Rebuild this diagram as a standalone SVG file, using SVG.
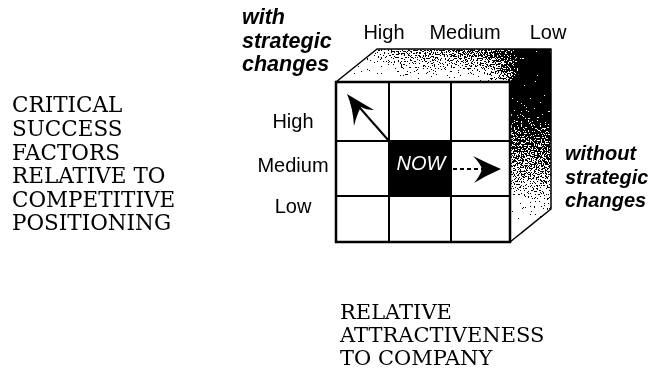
<svg xmlns="http://www.w3.org/2000/svg" width="651" height="372" viewBox="0 0 651 372">
<style>
.serif{font-family:"DejaVu Serif","Liberation Serif",serif;font-size:21.5px;fill:#000}
.serif2{font-family:"DejaVu Serif","Liberation Serif",serif;font-size:21px;fill:#000}
.sans{font-family:"Liberation Sans",Arial,sans-serif;font-size:20px;fill:#000}
.bi{font-family:"Liberation Sans",Arial,sans-serif;font-size:21.5px;font-weight:bold;font-style:italic;fill:#000}
.edge{fill:none;stroke:#000;stroke-width:1.5;stroke-linejoin:round}
.grid{fill:none;stroke:#000;stroke-width:2}
</style>
<defs>
<linearGradient id="topG" gradientUnits="userSpaceOnUse" x1="377" y1="0" x2="551" y2="0">
<stop offset="0" stop-color="#b8b8b8"/>
<stop offset="0.2" stop-color="#8c8c8c"/>
<stop offset="0.55" stop-color="#787878"/>
<stop offset="0.75" stop-color="#505050"/>
<stop offset="0.85" stop-color="#111"/>
<stop offset="1" stop-color="#000"/>
</linearGradient>
<linearGradient id="topW" gradientUnits="userSpaceOnUse" x1="0" y1="50" x2="0" y2="82">
<stop offset="0" stop-color="#fff" stop-opacity="0"/>
<stop offset="0.5" stop-color="#fff" stop-opacity="0.35"/>
<stop offset="1" stop-color="#fff" stop-opacity="0.9"/>
</linearGradient>
<linearGradient id="topM" gradientUnits="userSpaceOnUse" x1="340" y1="0" x2="525" y2="0">
<stop offset="0" stop-color="#fff"/>
<stop offset="0.75" stop-color="#fff"/>
<stop offset="1" stop-color="#000"/>
</linearGradient>
<mask id="mTop"><rect x="300" y="40" width="260" height="50" fill="url(#topM)"/></mask>
<linearGradient id="rightG" gradientUnits="userSpaceOnUse" x1="548" y1="60" x2="512" y2="235">
<stop offset="0" stop-color="#000"/>
<stop offset="0.22" stop-color="#111"/>
<stop offset="0.45" stop-color="#5e5e5e"/>
<stop offset="0.7" stop-color="#a0a0a0"/>
<stop offset="0.87" stop-color="#f0f0f0"/>
<stop offset="1" stop-color="#fff"/>
</linearGradient>
<filter id="dither" x="0" y="0" width="1" height="1" color-interpolation-filters="sRGB">
<feTurbulence type="fractalNoise" baseFrequency="0.7" numOctaves="2" seed="7" result="n"/>
<feColorMatrix in="n" type="matrix" values="1 0 0 0 0  1 0 0 0 0  1 0 0 0 0  0 0 0 0 1" result="g"/>
<feComposite in="SourceGraphic" in2="g" operator="arithmetic" k1="0" k2="1" k3="1.6" k4="-0.8" result="s"/>
<feComponentTransfer in="s" result="t">
<feFuncR type="discrete" tableValues="0 1"/>
<feFuncG type="discrete" tableValues="0 1"/>
<feFuncB type="discrete" tableValues="0 1"/>
<feFuncA type="linear" slope="0" intercept="1"/>
</feComponentTransfer>
<feComposite in="t" in2="SourceGraphic" operator="in"/>
</filter>
</defs>
<rect width="651" height="372" fill="#fff"/>

<g id="cube">
<g filter="url(#dither)">
<polygon points="336,82 377,49 551,49 510,82" fill="url(#topG)"/>
<polygon points="336,82 377,49 551,49 510,82" fill="url(#topW)" mask="url(#mTop)"/>
<polygon points="510,82 551,49 551,209 510,242" fill="url(#rightG)"/>
</g>
<polygon points="336,82 377,49 551,49 551,209 510,242" class="edge"/>
<line x1="510" y1="82" x2="551" y2="49" class="edge"/>
<rect x="336" y="82" width="174" height="160" fill="#fff" stroke="#000" stroke-width="2.5"/>
<rect x="389" y="141" width="62" height="55" fill="#000"/>
<line x1="389" y1="82" x2="389" y2="242" class="grid"/>
<line x1="451" y1="82" x2="451" y2="242" class="grid"/>
<line x1="336" y1="141" x2="510" y2="141" class="grid"/>
<line x1="336" y1="196" x2="510" y2="196" class="grid"/>
</g>

<g id="now">
<text x="421" y="170" text-anchor="middle" class="sans" style="font-style:italic;fill:#fff;font-size:20px">NOW</text>
</g>

<g id="connectors">
<line x1="360" y1="108" x2="389" y2="141" stroke="#000" stroke-width="2"/>
<path d="M347,94 Q362,103 374,110 Q366,110 361,107 Q357,114 354,126 Q353,108 347,94 Z" fill="#000"/>
<line x1="453" y1="169" x2="482" y2="169" stroke="#000" stroke-width="2" stroke-dasharray="4,3"/>
<path d="M501,169 Q487,163 473,156 Q480,163 482,169 Q480,176 474,183 Q487,175 501,169 Z" fill="#000"/>
</g>

<g id="left-label">
<text class="serif" x="12" y="112">CRITICAL</text>
<text class="serif" x="12" y="136">SUCCESS</text>
<text class="serif" x="12" y="160">FACTORS</text>
<text class="serif" x="12" y="183">RELATIVE TO</text>
<text class="serif" x="12" y="207">COMPETITIVE</text>
<text class="serif" x="12" y="230">POSITIONING</text>
</g>

<g id="bottom-label">
<text class="serif2" x="340" y="319">RELATIVE</text>
<text class="serif2" x="340" y="342">ATTRACTIVENESS</text>
<text class="serif2" x="340" y="365">TO COMPANY</text>
</g>

<g id="row-labels">
<text class="sans" x="293" y="128" text-anchor="middle">High</text>
<text class="sans" x="293" y="172" text-anchor="middle">Medium</text>
<text class="sans" x="293" y="213" text-anchor="middle">Low</text>
</g>

<g id="col-labels">
<text class="sans" x="384" y="39" text-anchor="middle">High</text>
<text class="sans" x="465" y="39" text-anchor="middle">Medium</text>
<text class="sans" x="548" y="39" text-anchor="middle">Low</text>
</g>

<g id="with-label">
<text class="bi" x="242" y="24">with</text>
<text class="bi" x="242" y="48">strategic</text>
<text class="bi" x="242" y="71">changes</text>
</g>

<g id="without-label">
<text class="bi" x="565" y="160" style="font-size:20px">without</text>
<text class="bi" x="565" y="183.5" style="font-size:20px">strategic</text>
<text class="bi" x="565" y="207" style="font-size:20px">changes</text>
</g>
</svg>
